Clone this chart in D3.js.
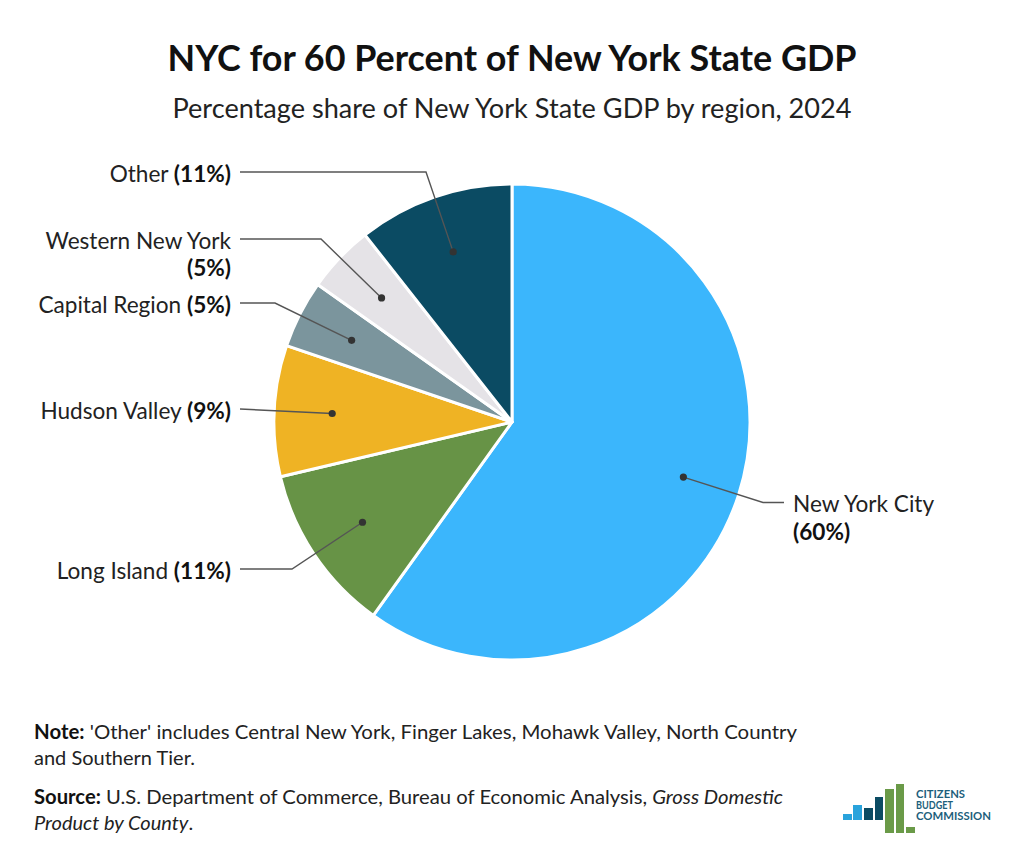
<!DOCTYPE html>
<html>
<head>
<meta charset="utf-8">
<script src="https://cdn.jsdelivr.net/npm/d3@7"></script>
<style>
  html, body { margin: 0; padding: 0; background: #fff; }
  svg { display: block; font-family: Lato, "Open Sans", sans-serif; }
</style>
</head>
<body>
<svg id="chart" width="1024" height="868"></svg>
<script>
// ---- Data ----
const regions = ["New York City", "Long Island", "Hudson Valley", "Capital Region", "Western New York", "Other"];
const shares = [59.9, 11.4, 8.9, 4.6, 4.6, 10.6];
const colors = ["#3bb6fc", "#679346", "#efb324", "#7b959d", "#e5e3e7", "#0b4b63"];

const titleText = "NYC for 60 Percent of New York State GDP";
const subtitleText = "Percentage share of New York State GDP by region, 2024";

// ---- Label layout (positions only) ----
const labelLayout = [
  { side: "right", ex: 763, ey: 502.5, lx: 784, wrap: true },
  { side: "left",  ex: 292, ey: 569,   lx: 240, wrap: false },
  { side: "left",  ex: 240, ey: 409,   lx: 240, wrap: false },
  { side: "left",  ex: 275, ey: 303,   lx: 240, wrap: false },
  { side: "left",  ex: 321, ey: 239,   lx: 240, wrap: true },
  { side: "left",  ex: 426, ey: 172,   lx: 240, wrap: false }
];

const svg = d3.select("#chart");
const W = 1024;

// Title & subtitle
svg.append("text").attr("x", W / 2).attr("y", 71).attr("text-anchor", "middle")
  .attr("font-size", 36).attr("font-weight", 700).attr("fill", "#111")
  .attr("textLength", 689).attr("lengthAdjust", "spacingAndGlyphs").text(titleText);
svg.append("text").attr("x", W / 2).attr("y", 118).attr("text-anchor", "middle")
  .attr("font-size", 27).attr("fill", "#222")
  .attr("textLength", 679).attr("lengthAdjust", "spacingAndGlyphs").text(subtitleText);

// Pie
const cx = 512, cy = 422, R = 238;
const data = regions.map((r, i) => ({ region: r, value: shares[i], color: colors[i], layout: labelLayout[i] }));
const pie = d3.pie().value(d => d.value).sort(null);
const arcs = pie(data);
const arc = d3.arc().innerRadius(0).outerRadius(R);
const dotArc = d3.arc().innerRadius(180).outerRadius(180);

const g = svg.append("g").attr("transform", `translate(${cx},${cy})`);
g.selectAll("path.slice").data(arcs).enter().append("path")
  .attr("class", "slice")
  .attr("d", arc)
  .attr("fill", d => d.data.color)
  .attr("stroke", "#fff").attr("stroke-width", 3).attr("stroke-linejoin", "round");

// Leader lines, dots and labels
const FS = 22.6;
const labels = svg.append("g");
arcs.forEach(a => {
  const [dx, dy] = dotArc.centroid(a);
  const px = cx + dx, py = cy + dy;
  const L = a.data.layout;
  const pts = [[L.lx, L.ey], [L.ex, L.ey], [px, py]];
  labels.append("path")
    .attr("d", d3.line()(pts))
    .attr("fill", "none").attr("stroke", "#555").attr("stroke-width", 1.4);
  labels.append("circle").attr("cx", px).attr("cy", py).attr("r", 3.6).attr("fill", "#333");

  const pct = "(" + Math.round(a.data.value) + "%)";
  const anchor = L.side === "left" ? "end" : "start";
  const tx = L.side === "left" ? 231 : 793;
  const t = labels.append("text").attr("x", tx).attr("y", L.ey + 9.5)
    .attr("text-anchor", anchor).attr("font-size", FS).attr("fill", "#222");
  if (L.wrap) {
    t.append("tspan").text(a.data.region);
    labels.append("text").attr("x", tx).attr("y", L.ey + 37)
      .attr("text-anchor", anchor).attr("font-size", FS).attr("font-weight", 700).attr("fill", "#111")
      .text(pct);
  } else {
    t.append("tspan").text(a.data.region + " ");
    t.append("tspan").attr("font-weight", 700).attr("fill", "#111").text(pct);
  }
});

// Notes
const notes = svg.append("g").attr("font-size", 20).attr("fill", "#222");
const n1 = notes.append("text").attr("x", 34).attr("y", 739)
  .attr("textLength", 763).attr("lengthAdjust", "spacingAndGlyphs");
n1.append("tspan").attr("font-weight", 700).attr("fill", "#111").text("Note:");
n1.append("tspan").text(" 'Other' includes Central New York, Finger Lakes, Mohawk Valley, North Country");
notes.append("text").attr("x", 34).attr("y", 765).text("and Southern Tier.");
const s1 = notes.append("text").attr("x", 34).attr("y", 804)
  .attr("textLength", 749).attr("lengthAdjust", "spacingAndGlyphs");
s1.append("tspan").attr("font-weight", 700).attr("fill", "#111").text("Source:");
s1.append("tspan").text(" U.S. Department of Commerce, Bureau of Economic Analysis, ");
s1.append("tspan").attr("font-style", "italic").text("Gross Domestic");
const s2 = notes.append("text").attr("x", 34).attr("y", 830);
s2.append("tspan").attr("font-style", "italic").text("Product by County");
s2.append("tspan").text(".");

// Logo
const logoBars = [
  { x: 843, y: 814, w: 9, h: 6, c: "#29a3dc" },
  { x: 853, y: 805, w: 9, h: 15, c: "#29a3dc" },
  { x: 864, y: 808, w: 9, h: 12, c: "#0b4b63" },
  { x: 875, y: 797, w: 8, h: 23, c: "#0b4b63" },
  { x: 885, y: 789, w: 9, h: 44, c: "#6a9a48" },
  { x: 896, y: 784, w: 8, h: 49, c: "#6a9a48" },
  { x: 906, y: 827, w: 9, h: 6, c: "#6a9a48" }
];
const logo = svg.append("g");
logo.selectAll("rect").data(logoBars).enter().append("rect")
  .attr("x", d => d.x).attr("y", d => d.y).attr("width", d => d.w).attr("height", d => d.h)
  .attr("fill", d => d.c);
const logoWords = [["CITIZENS", 49], ["BUDGET", 37], ["COMMISSION", 75]];
logoWords.forEach(([w, len], i) => {
  logo.append("text").attr("x", 916).attr("y", 797.5 + i * 11)
    .attr("font-size", 11.5).attr("font-weight", 700).attr("fill", "#1d5f7c")
    .attr("textLength", len).attr("lengthAdjust", "spacingAndGlyphs").text(w);
});
</script>
</body>
</html>
